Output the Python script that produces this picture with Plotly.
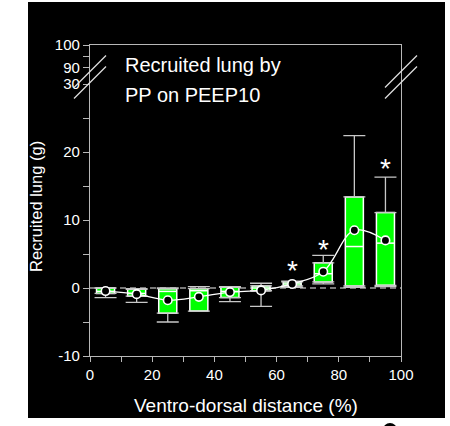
import plotly.graph_objects as go

# ---- data ----
x_pos = [5, 15, 25, 35, 45, 55, 65, 75, 85, 95]
q1 = [-0.8, -1.2, -3.7, -3.4, -1.4, -0.4, 0.3, 0.9, 0.3, 0.4]
q3 = [0.0, -0.2, -0.1, -0.1, 0.1, 0.3, 0.9, 3.7, 13.4, 11.1]
median = [-0.5, -0.8, -0.5, -0.4, -0.5, 0.0, 0.6, 2.1, 6.1, 6.6]
lower = [-1.4, -2.1, -5.0, -3.4, -2.0, -2.7, 0.1, 0.6, 0.1, 0.2]
upper = [0.0, -0.1, 0.0, 0.2, 0.2, 0.7, 1.0, 4.8, 22.4, 16.3]
mean = [-0.45, -0.9, -1.8, -1.3, -0.6, -0.35, 0.6, 2.4, 8.5, 7.0]

star_x = [65, 75, 95]
star_y = [3.6, 6.7, 18.6]

x_ticks = [0, 10, 20, 30, 40, 50, 60, 70, 80, 90, 100]
x_ticktext = ["0", "", "20", "", "40", "", "60", "", "80", "", "100"]

y_ticks_low = [-10, -5, 0, 5, 10, 15, 20, 25, 30]
y_ticktext_low = ["-10", "", "0", "", "10", "", "20", "", "30"]
y_ticks_high = [90, 95, 100]
y_ticktext_high = ["90", "", "100"]

# axis break mapping for the upper segment (90-100)
BREAK_BASE = 32.4
BREAK_SCALE = 0.334


def upper_map(v):
    return BREAK_BASE + (v - 90) * BREAK_SCALE


y_tickvals = y_ticks_low + [upper_map(v) for v in y_ticks_high]
y_ticktext = y_ticktext_low + y_ticktext_high

GREEN = "#00ff00"
AXIS = "#b8b8b8"
WHISK = "#c8c8c8"
FONT = "Arial, Liberation Sans, sans-serif"
BOX_W = 5.8

fig = go.Figure()

# boxes
fig.add_trace(go.Bar(
    x=x_pos, y=[b - a for a, b in zip(q1, q3)], base=q1, width=BOX_W,
    marker=dict(color=GREEN, line=dict(color="white", width=1.5)),
    showlegend=False, hoverinfo="skip"))

# upper whiskers
fig.add_trace(go.Scatter(
    x=x_pos, y=q3, mode="markers", marker=dict(size=0.1, opacity=0),
    error_y=dict(type="data", symmetric=False,
                 array=[u - t for u, t in zip(upper, q3)],
                 arrayminus=[0] * len(q3), color=WHISK, thickness=1.3, width=11),
    showlegend=False, hoverinfo="skip"))

# lower whiskers
fig.add_trace(go.Scatter(
    x=x_pos, y=q1, mode="markers", marker=dict(size=0.1, opacity=0),
    error_y=dict(type="data", symmetric=False,
                 array=[0] * len(q1),
                 arrayminus=[b - l for b, l in zip(q1, lower)],
                 color=WHISK, thickness=1.3, width=11),
    showlegend=False, hoverinfo="skip"))

# medians
fig.add_trace(go.Scatter(
    x=x_pos, y=median, mode="markers", marker=dict(size=0.1, opacity=0),
    error_x=dict(type="data", array=[BOX_W / 2] * len(median),
                 color="white", thickness=1.5, width=0),
    showlegend=False, hoverinfo="skip"))

# means
fig.add_trace(go.Scatter(
    x=x_pos, y=mean, mode="lines+markers",
    line=dict(color="white", width=1.3, shape="spline"),
    marker=dict(size=8.5, color="black", line=dict(color="white", width=1.6)),
    showlegend=False, hoverinfo="skip"))

# stars
for sx, sy in zip(star_x, star_y):
    fig.add_annotation(x=sx, y=sy, text="*", showarrow=False,
                       font=dict(family=FONT, size=28, color="white"),
                       yanchor="middle", yshift=-7)

# chart text
fig.add_annotation(xref="paper", yref="paper", x=(123 - 90) / 311, y=(356 - 65) / 311,
                   text="Recruited lung by", showarrow=False, xanchor="left",
                   yanchor="middle", font=dict(family=FONT, size=20, color="white"))
fig.add_annotation(xref="paper", yref="paper", x=(123 - 90) / 311, y=(356 - 95) / 311,
                   text="PP on PEEP10", showarrow=False, xanchor="left",
                   yanchor="middle", font=dict(family=FONT, size=20, color="white"))
fig.add_annotation(xref="paper", yref="paper", x=(246 - 90) / 311, y=(356 - 405) / 311,
                   text="Ventro-dorsal distance (%)", showarrow=False,
                   yanchor="middle", font=dict(family=FONT, size=19, color="white"))
fig.add_annotation(xref="paper", yref="paper", x=(36 - 90) / 311, y=(356 - 206) / 311,
                   text="Recruited lung (g)", showarrow=False, textangle=-90,
                   xanchor="center", yanchor="middle",
                   font=dict(family=FONT, size=16.5, color="white"))

# shapes: black background panel, zero reference, axis-break marks
def px_x(p):
    return (p - 90) / 311


def px_y(p):
    return (356 - p) / 311


fig.add_shape(type="rect", xref="paper", yref="paper",
              x0=px_x(28), x1=px_x(445), y0=px_y(418), y1=px_y(2),
              fillcolor="black", line=dict(width=0), layer="below")
fig.add_shape(type="circle", xref="paper", yref="paper",
              x0=px_x(383), x1=px_x(397), y0=px_y(437), y1=px_y(423),
              fillcolor="black", line=dict(width=0), layer="below")
fig.add_shape(type="line", xref="x", yref="y", x0=0, x1=100, y0=0, y1=0,
              line=dict(color="#a0a0a0", width=1.3, dash="6px,4px"), layer="below")
for cx in (90, 401):
    for dy in (-5.5, 5.5):
        fig.add_shape(type="line", xref="paper", yref="paper",
                      x0=px_x(cx - 16), y0=px_y(77 + dy + 16),
                      x1=px_x(cx + 16), y1=px_y(77 + dy - 16),
                      line=dict(color="#e0e0e0", width=1.2))

fig.update_layout(
    width=450, height=426,
    margin=dict(l=90, r=49, t=45, b=70),
    paper_bgcolor="white", plot_bgcolor="rgba(0,0,0,0)",
    barmode="overlay", showlegend=False,
    font=dict(family=FONT, color="white"),
)
fig.update_xaxes(range=[0, 100], tickvals=x_ticks, ticktext=x_ticktext,
                 ticks="outside", ticklen=5, tickwidth=1.2, tickcolor=AXIS,
                 showline=True, linecolor=AXIS, linewidth=1.3, mirror=True,
                 showgrid=False, zeroline=False,
                 tickfont=dict(family=FONT, size=15, color="white"))
fig.update_yaxes(range=[-10, 35.74], tickvals=y_tickvals, ticktext=y_ticktext,
                 ticks="outside", ticklen=6, tickwidth=1.2, tickcolor=AXIS,
                 showline=True, linecolor=AXIS, linewidth=1.3, mirror=True,
                 showgrid=False, zeroline=False,
                 tickfont=dict(family=FONT, size=15, color="white"))

fig.write_html("out.html")
